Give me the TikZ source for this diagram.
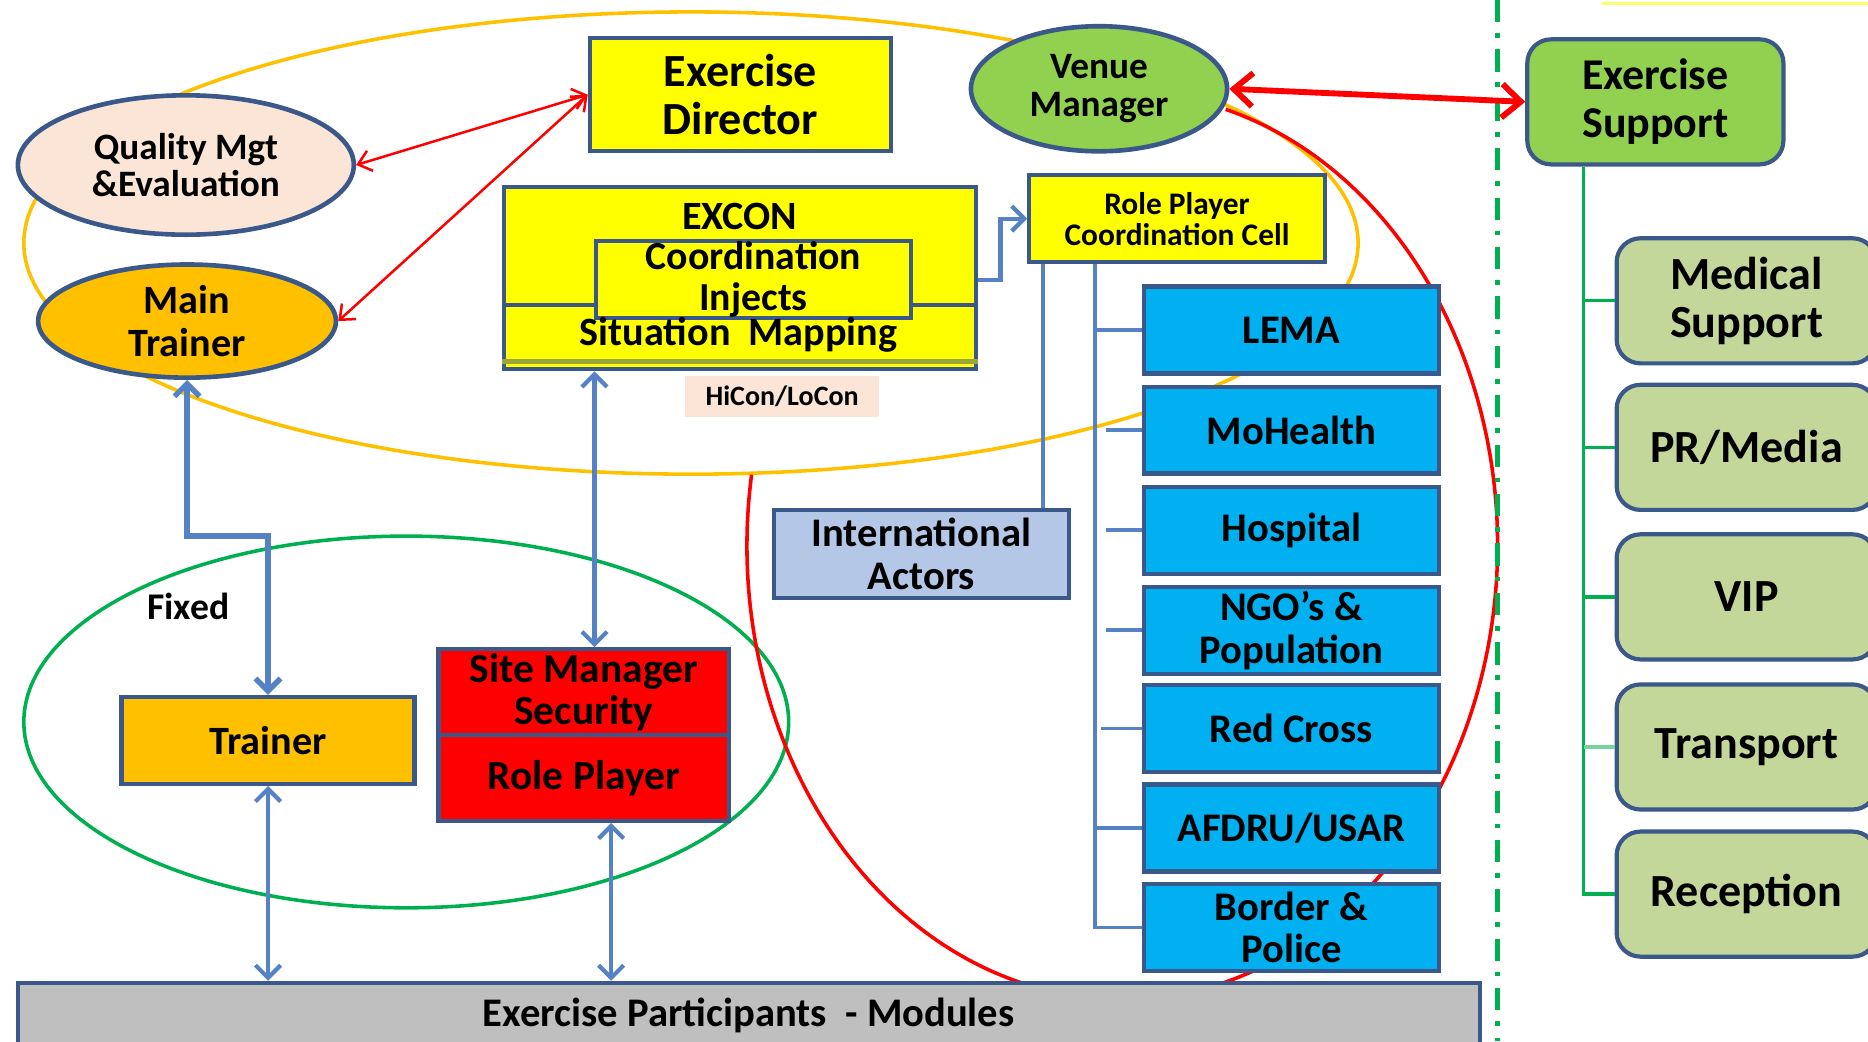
\documentclass[tikz,border=0pt]{standalone}
\usepackage{fontspec}
\setmainfont{Carlito}
\usetikzlibrary{arrows.meta,calc,shapes.geometric}
\definecolor{bordc}{RGB}{59,88,138}
\definecolor{yelF}{RGB}{255,255,0}
\definecolor{orgF}{RGB}{255,192,0}
\definecolor{grnF}{RGB}{146,208,80}
\definecolor{peachF}{RGB}{251,229,214}
\definecolor{cyanF}{RGB}{0,176,240}
\definecolor{steelF}{RGB}{180,199,231}
\definecolor{sideF}{RGB}{196,215,155}
\definecolor{grayF}{RGB}{191,191,191}
\definecolor{redF}{RGB}{255,0,0}
\definecolor{arrB}{RGB}{84,130,196}
\definecolor{lineG}{RGB}{0,176,80}
\definecolor{lineGl}{RGB}{120,210,160}
\definecolor{oliveL}{RGB}{155,165,60}
\definecolor{paleY}{RGB}{255,255,110}
\newcommand\fsz[2]{\fontsize{#1}{#2}\selectfont\bfseries}
\begin{document}
\begin{tikzpicture}[
  bx/.style={draw=bordc, line width=1pt, inner sep=0pt, align=center, rectangle},
  rbx/.style={bx, rounded corners=0.2cm},
  ell/.style={draw=bordc, line width=1.1pt, ellipse, inner sep=0pt, align=center},
  redarr/.style={draw=redF, line width=0.6pt, {Straight Barb[length=3pt,width=5pt]}-{Straight Barb[length=3pt,width=5pt]}},
  bigredarr/.style={draw=redF, line width=1.4pt, {Straight Barb[length=4.5pt,width=8pt]}-{Straight Barb[length=4.5pt,width=8pt]}},
  bluearr/.style={draw=arrB, line width=1pt, {Straight Barb[length=3pt,width=6pt]}-{Straight Barb[length=3pt,width=6pt]}},
  treeB/.style={draw=arrB, line width=0.9pt},
  treeG/.style={draw=lineG, line width=0.8pt},
]
\useasboundingbox (0,0) rectangle (15.68,-8.74);
\clip (0,0) rectangle (15.68,-8.74);

% background loops
\draw[orgF, line width=0.85pt] (5.80,-2.04) ellipse [x radius=5.60, y radius=1.94];
\draw[lineG, line width=0.85pt] (3.41,-6.06) ellipse [x radius=3.21, y radius=1.56];
\draw[redF, line width=0.85pt] ($(9.42,-4.58)+(74:3.15 and 3.81)$) arc [start angle=74, end angle=-189, x radius=3.15, y radius=3.81];

% separator
\draw[lineG, line width=1.1pt, dash pattern=on 5.3pt off 2.6pt on 1.1pt off 2.8pt] (12.57,0) -- (12.57,-8.74);
\draw[paleY, line width=0.6pt] (13.45,-0.03) -- (15.68,-0.03);

% nodes
\node[ell, fill=peachF, minimum width=2.82cm, minimum height=1.17cm, font=\fsz{8.9pt}{8.9pt}] (qm) at (1.56,-1.385) {Quality Mgt\\\&Evaluation};
\node[ell, fill=orgF, minimum width=2.50cm, minimum height=0.95cm, font=\fsz{9.6pt}{10.2pt}] (mt) at (1.57,-2.695) {Main\\Trainer};
\node[bx, fill=yelF, minimum width=2.53cm, minimum height=0.95cm, font=\fsz{11pt}{11.4pt}] (ed) at (6.215,-0.795) {Exercise\\Director};
\node[ell, fill=grnF, minimum width=2.15cm, minimum height=1.05cm, font=\fsz{8.9pt}{9.1pt}] (vm) at (9.225,-0.745) {Venue\\Manager};
\node[rbx, fill=grnF, minimum width=2.15cm, minimum height=1.05cm, font=\fsz{10.5pt}{11.4pt}] (es) at (13.895,-0.855) {Exercise\\Support};

% EXCON
\node[bx, fill=yelF, minimum width=3.96cm, minimum height=1.53cm] (excon) at (6.21,-2.335) {};
\draw[bordc, line width=1pt] (excon.west |- 0,-2.56) -- (excon.east |- 0,-2.56);
\draw[oliveL, line width=1.2pt] ([yshift=0.08cm]excon.south west) -- ([yshift=0.08cm]excon.south east);
\node[font=\fsz{9.6pt}{10pt}] (exconT) at (6.21,-1.82) {EXCON};
\node[bx, fill=yelF, minimum width=2.65cm, minimum height=0.55cm, font=\fsz{9.5pt}{10pt}] (inner) at (6.325,-2.345) {Coordination\\Injects};
\node[font=\fsz{9.6pt}{10pt}] (sitmap) at (6.20,-2.81) {Situation\ \ Mapping};
\node[fill=peachF, inner sep=0pt, minimum width=1.63cm, minimum height=0.34cm, font=\fsz{6.7pt}{7pt}] (hicon) at (6.565,-3.33) {HiCon/LoCon};

% role player cell
\node[bx, fill=yelF, minimum width=2.48cm, minimum height=0.73cm, font=\fsz{7.5pt}{7.4pt}] (rpcc) at (9.88,-1.835) {Role Player\\Coordination Cell};

% blue boxes
\tikzset{cy/.style={bx, fill=cyanF, minimum width=2.48cm, minimum height=0.73cm, font=\fsz{9.7pt}{10.2pt}}}
\node[cy] (lema) at (10.84,-2.77) {LEMA};
\node[cy] (moh) at (10.84,-3.61) {MoHealth};
\node[cy] (hosp) at (10.84,-4.45) {Hospital};
\node[cy] (ngo) at (10.84,-5.29) {NGO's \&\\Population};
\node[cy] (redc) at (10.84,-6.115) {Red Cross};
\node[cy] (afdru) at (10.84,-6.95) {AFDRU/USAR};
\node[cy] (bord) at (10.84,-7.785) {Border \&\\Police};

\node[bx, fill=steelF, minimum width=2.47cm, minimum height=0.74cm, font=\fsz{9.7pt}{10.2pt}] (intl) at (7.735,-4.65) {International\\Actors};

% lower left
\node[bx, fill=orgF, minimum width=2.46cm, minimum height=0.73cm, font=\fsz{9.6pt}{10pt}] (trainer) at (2.25,-6.215) {Trainer};
\node[bx, fill=redF, minimum width=2.44cm, minimum height=0.72cm, font=\fsz{9.9pt}{10.2pt}] (sitem) at (4.90,-5.81) {Site Manager\\Security};
\node[bx, fill=redF, minimum width=2.44cm, minimum height=0.72cm, font=\fsz{9.9pt}{10.2pt}] (rplay) at (4.90,-6.53) {Role Player};
\node[font=\fsz{9pt}{9pt}] (fixed) at (1.58,-5.09) {Fixed};

\node[bx, fill=grayF, minimum width=12.27cm, minimum height=0.55cm, font=\fsz{9.7pt}{10pt}] (part) at (6.285,-8.525) {Exercise Participants\ \ - Modules};

% side boxes
\tikzset{sd/.style={rbx, fill=sideF, minimum width=2.18cm, minimum height=1.05cm, font=\fsz{11pt}{11.4pt}}}
\node[sd] (med) at (14.66,-2.525) {Medical\\Support};
\node[sd] (pr) at (14.66,-3.755) {PR/Media};
\node[sd] (vip) at (14.66,-5.01) {VIP};
\node[sd] (trans) at (14.66,-6.27) {Transport};
\node[sd] (recep) at (14.66,-7.505) {Reception};

% connectors
\draw[redarr] (qm.east) -- (ed.west);
\draw[redarr] (mt.east) -- (ed.west);
\draw[bigredarr] (vm.east) -- (es.west);

\coordinate (xa) at (4.99,0);
\coordinate (xb) at (5.13,0);
\draw[bluearr, line width=1.3pt] (mt.south) -- ++(0,-1.31) -| (trainer.north);
\draw[bluearr] (excon.south -| xa) -- (sitem.north -| xa);
\draw[bluearr] (trainer.south) -- (trainer.south |- part.north);
\draw[bluearr] (rplay.south -| xb) -- (part.north -| xb);
\draw[draw=arrB, line width=1pt, -{Straight Barb[length=3pt,width=6pt]}] (excon.east |- 0,-2.35) -- ++(0.19,0) |- (rpcc.west);

% tree from role player cell
\draw[treeB] ([xshift=0.13cm]rpcc.south west) -- ([xshift=0.13cm]rpcc.south west |- intl.north);
\draw[treeB] ([xshift=0.57cm]rpcc.south west) |- (bord.west);
\draw[treeB] ([xshift=0.57cm]rpcc.south west |- lema.west) -- (lema.west);
\draw[treeB] ([xshift=0.66cm]rpcc.south west |- moh.west) -- (moh.west);
\draw[treeB] ([xshift=0.66cm]rpcc.south west |- hosp.west) -- (hosp.west);
\draw[treeB] ([xshift=0.66cm]rpcc.south west |- ngo.west) -- (ngo.west);
\draw[treeB] ([xshift=0.62cm]rpcc.south west |- redc.west) -- (redc.west);
\draw[treeB] ([xshift=0.57cm]rpcc.south west |- afdru.west) -- (afdru.west);

% tree from exercise support
\draw[treeG] ([xshift=0.49cm]es.south west) |- (recep.west);
\draw[treeG] ([xshift=0.49cm]es.south west |- med.west) -- (med.west);
\draw[treeG] ([xshift=0.49cm]es.south west |- pr.west) -- (pr.west);
\draw[treeG] ([xshift=0.49cm]es.south west |- vip.west) -- (vip.west);
\draw[draw=lineGl, line width=0.8pt] ([xshift=0.49cm]es.south west |- trans.west) -- (trans.west);
\end{tikzpicture}
\end{document}
